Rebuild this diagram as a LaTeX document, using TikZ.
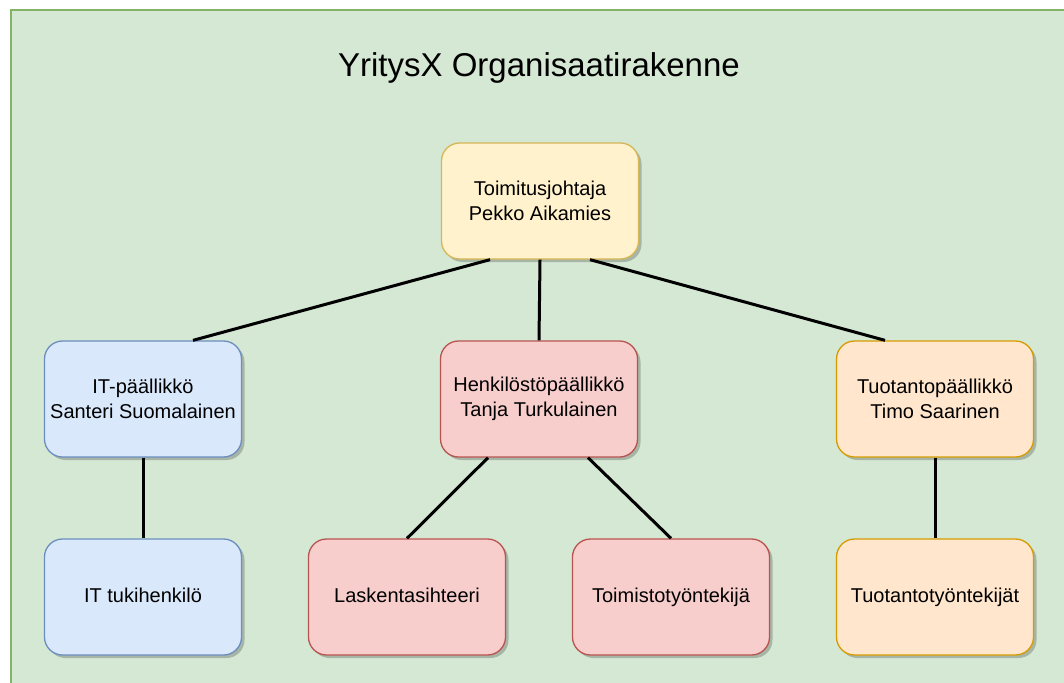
\documentclass[tikz,border=0pt]{standalone}
\usepackage{fontspec}
\setmainfont{Liberation Sans}
\usetikzlibrary{shadows}

\definecolor{bgFill}{HTML}{D5E8D4}
\definecolor{bgLine}{HTML}{82B366}
\definecolor{ceoFill}{HTML}{FFF2CC}
\definecolor{ceoLine}{HTML}{D6B656}
\definecolor{itFill}{HTML}{DAE8FC}
\definecolor{itLine}{HTML}{6C8EBF}
\definecolor{hrFill}{HTML}{F8CECC}
\definecolor{hrLine}{HTML}{B85450}
\definecolor{prodFill}{HTML}{FFE6CC}
\definecolor{prodLine}{HTML}{D79B00}

\tikzset{
  orgbox/.style={rectangle, rounded corners=18pt,
    minimum width=197pt, minimum height=116pt,
    line width=1.3pt, align=center,
    font=\fontsize{20}{25}\selectfont, text=black,
    drop shadow={shadow xshift=3pt, shadow yshift=-3pt,
      fill=black, opacity=0.22}},
  oneline/.style={text height=14.6pt, text depth=4.2pt},
  ceobox/.style={orgbox, fill=ceoFill, draw=ceoLine},
  itbox/.style={orgbox, fill=itFill, draw=itLine},
  hrbox/.style={orgbox, fill=hrFill, draw=hrLine},
  prodbox/.style={orgbox, fill=prodFill, draw=prodLine},
  link/.style={line width=3pt, draw=black}
}

\begin{document}
\begin{tikzpicture}[x=1pt, y=-1pt]
\useasboundingbox (0,0) rectangle (1064,682);

% page background and the green frame running off the page
\begin{scope}
  \clip (0,0) rectangle (1064,682);
  \fill[white] (0,0) rectangle (1064,682);
  \draw[fill=bgFill, draw=bgLine, line width=2pt] (10.5,10.5) rectangle (1080,700);
\end{scope}

% title
\node[anchor=base, font=\fontsize{33}{40}\selectfont, text=black] (title) at (539,77) {YritysX Organisaatirakenne};

% boxes
\node[ceobox]  (ceo)   at (540,201) {Toimitusjohtaja\\Pekko Aikamies};
\node[itbox]   (it)    at (143,399) {IT-päällikkö\\Santeri Suomalainen};
\node[hrbox]   (hr)    at (539,399) {Henkilöstöpäällikkö\\Tanja Turkulainen};
\node[prodbox] (prod)  at (935,399) {Tuotantopäällikkö\\Timo Saarinen};
\node[itbox, oneline]   (itsup) at (143,597) {IT tukihenkilö};
\node[hrbox, oneline]   (acc)   at (407,597) {Laskentasihteeri};
\node[hrbox, oneline]   (off)   at (671,597) {Toimistotyöntekijä};
\node[prodbox, oneline] (prodw) at (935,597) {Tuotantotyöntekijät};

% connectors
\draw[link] ([xshift=-50pt]ceo.south) -- ([xshift=50pt]it.north);
\draw[link] (ceo.south) -- (hr.north);
\draw[link] ([xshift=50pt]ceo.south) -- ([xshift=-50pt]prod.north);
\draw[link] (it.south) -- (itsup.north);
\draw[link] ([xshift=-51pt]hr.south) -- (acc.north);
\draw[link] ([xshift=49pt]hr.south) -- (off.north);
\draw[link] (prod.south) -- (prodw.north);
\end{tikzpicture}
\end{document}
